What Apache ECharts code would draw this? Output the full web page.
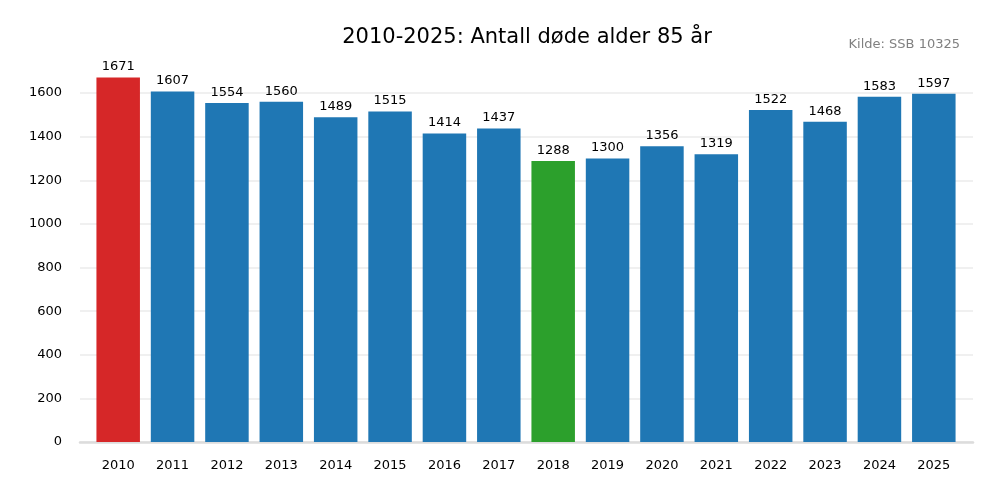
<!DOCTYPE html>
<html>
<head>
<meta charset="utf-8">
<script src="https://cdn.jsdelivr.net/npm/echarts@6/dist/echarts.min.js"></script>
<style>html,body{margin:0;padding:0;background:#fff}#c{width:1000px;height:500px}</style>
</head>
<body>
<div id="c"></div>
<script>
const years = ['2010','2011','2012','2013','2014','2015','2016','2017','2018','2019','2020','2021','2022','2023','2024','2025'];
const deaths = [1671,1607,1554,1560,1489,1515,1414,1437,1288,1300,1356,1319,1522,1468,1583,1597];
const highlightMax = '2010';
const highlightMin = '2018';
const yTicks = [0,200,400,600,800,1000,1200,1400,1600];

const FONT = 'DejaVu Sans';
const chart = echarts.init(document.getElementById('c'), null, {renderer:'canvas'});
const barData = deaths.map((v,i)=>({
  value: v,
  itemStyle: {borderWidth:0, color: years[i]===highlightMax ? '#d62728' : (years[i]===highlightMin ? '#2ca02c' : '#1f77b4')}
}));
const gridTop = 442 - 1800*(349/1600);
chart.setOption({
  animation:false,
  backgroundColor:'#fff',
  textStyle:{fontFamily:FONT},
  title:[
    {text:'Kilde: SSB 10325', right:35, top:33,
     textStyle:{fontFamily:FONT, fontSize:13, fontWeight:'normal', color:'#808080'}}
  ],
  graphic:[
    {type:'text', x:527, y:27, style:{text:'2010-2025: Antall døde alder 85 år',
      font:'21px "DejaVu Sans"', fill:'#000', textAlign:'center', textVerticalAlign:'top'}}
  ],
  grid:[
    {left:80, right:27, top:gridTop, bottom:58},
    {left:91, width:870, top:gridTop, bottom:58}
  ],
  xAxis:[
    {type:'category', gridIndex:0, data:years, axisLabel:{show:false}, axisTick:{show:false},
     axisLine:{show:true, lineStyle:{color:'#dcdcdc', width:2.5}}},
    {type:'category', gridIndex:1, data:years, axisTick:{show:false}, axisLine:{show:false},
     axisLabel:{fontFamily:FONT, fontSize:13, color:'#000', margin:17}}
  ],
  yAxis:[
    {type:'value', gridIndex:0, min:0, max:1800, interval:200,
     axisLine:{show:false}, axisTick:{show:false},
     axisLabel:{fontFamily:FONT, fontSize:13, color:'#000', margin:18,
       formatter:v => yTicks.includes(v) ? String(v) : ''},
     splitLine:{show:true, lineStyle:{color:['#ebebeb','#ebebeb','#ebebeb','#ebebeb','#ebebeb','#ebebeb','#ebebeb','#ebebeb','#ebebeb','rgba(0,0,0,0)'], width:1.5}}},
    {type:'value', gridIndex:1, min:0, max:1800, interval:200, show:false, splitLine:{show:false}}
  ],
  series:[{
    type:'bar', xAxisIndex:1, yAxisIndex:1, data:barData, barWidth:'80%',
    label:{show:true, position:'top', distance:4, fontFamily:FONT, fontSize:13, color:'#000'}
  }]
});
</script>
</body>
</html>
